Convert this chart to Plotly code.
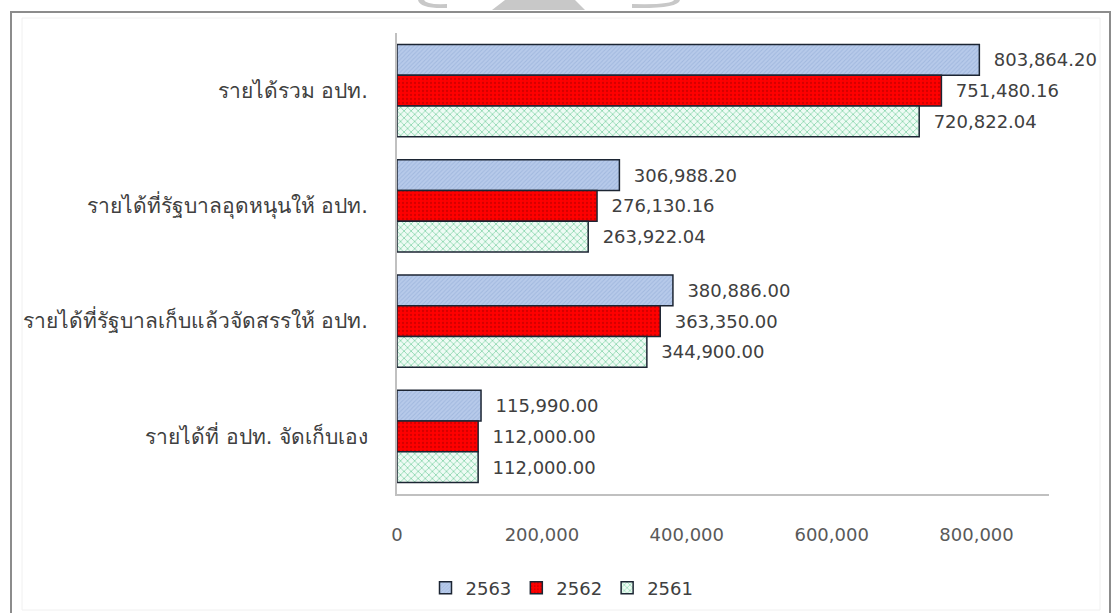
import plotly.graph_objects as go

# Revenue categories, listed top to bottom
categories = [
    "รายได้รวม อปท.",
    "รายได้ที่รัฐบาลอุดหนุนให้ อปท.",
    "รายได้ที่รัฐบาลเก็บแล้วจัดสรรให้ อปท.",
    "รายได้ที่ อปท. จัดเก็บเอง",
]

years = ["2563", "2562", "2561"]
values_2563 = [803864.20, 306988.20, 380886.00, 115990.00]
values_2562 = [751480.16, 276130.16, 363350.00, 112000.00]
values_2561 = [720822.04, 263922.04, 344900.00, 112000.00]

tick_vals = [0, 200000, 400000, 600000, 800000]
tick_text = ["0", "200,000", "400,000", "600,000", "800,000"]

W, H = 1112, 613
L, R, T, B = 397, 63, 33, 119
PW, PH = W - L - R, H - T - B


def px(x):
    return (x - L) / PW


def py(y):
    return (H - B - y) / PH


FONT = "'DejaVu Sans', Tahoma, 'Noto Sans', sans-serif"

styles = {
    "2563": dict(shape="/", fgcolor="#a0b7de", bgcolor="#b7caea", size=3, solidity=0.3),
    "2562": dict(shape=".", fgcolor="#d40000", bgcolor="#ff0000", size=4, solidity=0.25),
    "2561": dict(shape="x", fgcolor="#8ad6ae", bgcolor="#eefbf4", size=5, solidity=0.3),
}

series = {"2563": values_2563, "2562": values_2562, "2561": values_2561}

fig = go.Figure()
for yr in years:
    st = styles[yr]
    fig.add_trace(go.Bar(
        name=yr,
        y=categories,
        x=series[yr],
        orientation="h",
        marker=dict(
            color=st["bgcolor"],
            line=dict(color="#1c2533", width=1.5),
            pattern=dict(shape=st["shape"], fgcolor=st["fgcolor"], bgcolor=st["bgcolor"],
                         size=st["size"], solidity=st["solidity"], fillmode="replace"),
        ),
        text=[f"\u00a0\u00a0{v:,.2f}" for v in series[yr]],
        textposition="outside",
        textfont=dict(family=FONT, size=18, color="#404040"),
        cliponaxis=False,
    ))

shapes = [
    # outer frame
    dict(type="rect", xref="paper", yref="paper",
         x0=px(11), x1=px(1110), y0=py(640), y1=py(12),
         line=dict(color="#8c8c8c", width=2), fillcolor="rgba(0,0,0,0)", layer="below"),
    # faint inner frame
    dict(type="rect", xref="paper", yref="paper",
         x0=px(22), x1=px(1100), y0=py(610), y1=py(18),
         line=dict(color="#f0f0f0", width=1), fillcolor="rgba(0,0,0,0)", layer="below"),
]

# grey emblem fragments above the frame
emblem = [
    f"M {px(418)},{py(0)} Q {px(420)},{py(9)} {px(447)},{py(8)} L {px(447)},{py(4)} Q {px(426)},{py(5)} {px(424)},{py(0)} Z",
    f"M {px(492)},{py(10)} L {px(505)},{py(0)} L {px(575)},{py(0)} L {px(585)},{py(10)} Z",
    f"M {px(680)},{py(0)} Q {px(678)},{py(9)} {px(632)},{py(8)} L {px(632)},{py(4)} Q {px(672)},{py(5)} {px(674)},{py(0)} Z",
]
for p in emblem:
    shapes.append(dict(type="path", xref="paper", yref="paper", path=p,
                       fillcolor="#c8c8c8", line=dict(width=0)))

fig.update_layout(
    width=W, height=H,
    margin=dict(l=L, r=R, t=T, b=B, autoexpand=False),
    paper_bgcolor="white", plot_bgcolor="white",
    barmode="group", bargap=0.2, bargroupgap=0,
    font=dict(family=FONT, size=18, color="#404040"),
    showlegend=True,
    legend=dict(orientation="h", x=px(562), xanchor="center", y=py(588), yanchor="middle",
                font=dict(family=FONT, size=18, color="#404040"),
                itemwidth=30, tracegroupgap=0, bgcolor="rgba(0,0,0,0)"),
    shapes=shapes,
    xaxis=dict(range=[0, 900000], tickvals=tick_vals, ticktext=tick_text, automargin=False,
               showgrid=False, zeroline=False, showline=True, linecolor="#c0c0c0", linewidth=1.5,
               ticks="", ticklabelstandoff=24,
               tickfont=dict(family=FONT, size=18, color="#595959"), fixedrange=True),
    yaxis=dict(type="category", categoryorder="array", categoryarray=categories,
               autorange="reversed", showgrid=False, zeroline=False, automargin=False,
               showline=True, linecolor="#c0c0c0", linewidth=1.5, ticks="",
               ticklabelstandoff=23,
               tickfont=dict(family=FONT, size=21, color="#404040"), fixedrange=True),
)

fig.write_html("out.html")
